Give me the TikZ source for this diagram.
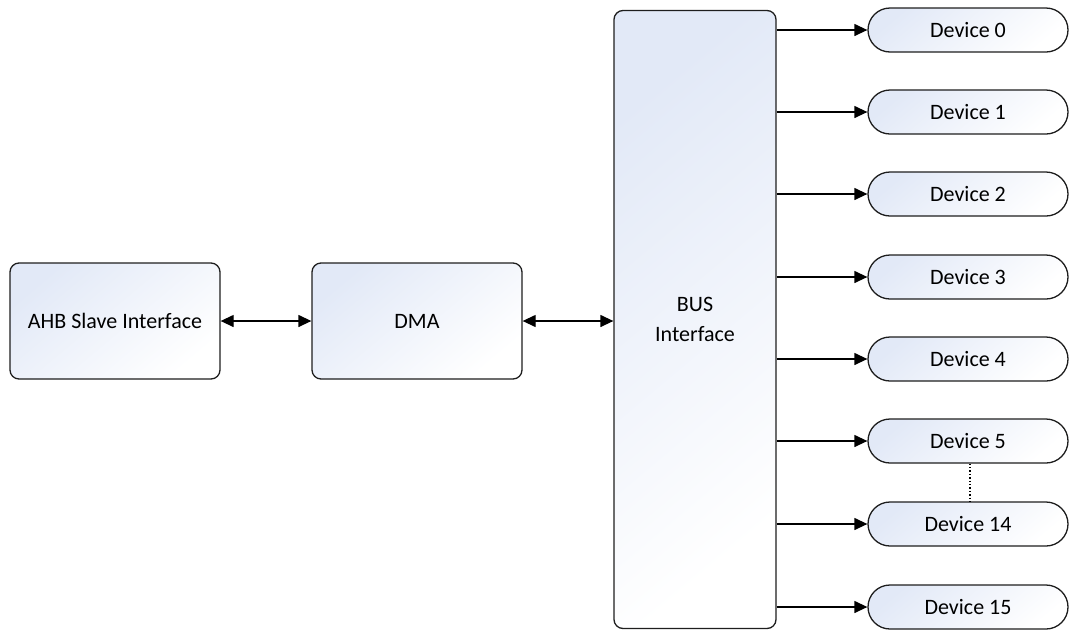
\documentclass[tikz,border=0pt]{standalone}
\usepackage{fontspec}
\setmainfont{Carlito}
\usetikzlibrary{arrows.meta,shapes.misc,calc}
\definecolor{bgblue}{RGB}{226,233,247}
\definecolor{edge}{RGB}{30,30,30}
\begin{document}
\begin{tikzpicture}[x=1pt,y=-1pt,
  blk/.style={draw=edge,line width=1.3pt,rounded corners=9pt,top color=bgblue,bottom color=white,shading angle=40,inner sep=0pt,font=\fontsize{22}{30}\selectfont,align=center},
  dev/.style={draw=edge,line width=1.3pt,rounded rectangle,minimum width=200pt,minimum height=44pt,inner sep=0pt,top color=bgblue,bottom color=white,shading angle=40,font=\fontsize{22}{26}\selectfont},
  arr/.style={line width=1.3pt,-{Triangle[length=13pt,width=12pt]}},
  darr/.style={line width=1.3pt,{Triangle[length=13pt,width=12pt]}-{Triangle[length=13pt,width=12pt]}}
]
\useasboundingbox (0,0) rectangle (1069,630);
\node[blk,minimum width=210pt,minimum height=116pt] (ahb) at (115,321) {AHB Slave Interface};
\node[blk,minimum width=210pt,minimum height=116pt] (dma) at (417,321) {DMA};
\node[blk,minimum width=162pt,minimum height=618pt] (bus) at (695,319.5) {BUS\\Interface};
\node[dev] (d0) at (968,30) {Device 0};
\node[dev] (d1) at (968,112) {Device 1};
\node[dev] (d2) at (968,194) {Device 2};
\node[dev] (d3) at (968,277) {Device 3};
\node[dev] (d4) at (968,359) {Device 4};
\node[dev] (d5) at (968,441) {Device 5};
\node[dev] (d14) at (968,524) {Device 14};
\node[dev] (d15) at (968,607) {Device 15};
\draw[darr] (ahb.east) -- (dma.west);
\draw[darr] (dma.east) -- (bus.west |- dma.east);
\foreach \d in {d0,d1,d2,d3,d4,d5,d14,d15}
  \draw[arr] (bus.east |- \d.west) -- (\d.west);
\draw[line width=1.4pt,dotted] ($(d5.south)+(2,0)$) -- ($(d14.north)+(2,0)$);
\end{tikzpicture}
\end{document}
